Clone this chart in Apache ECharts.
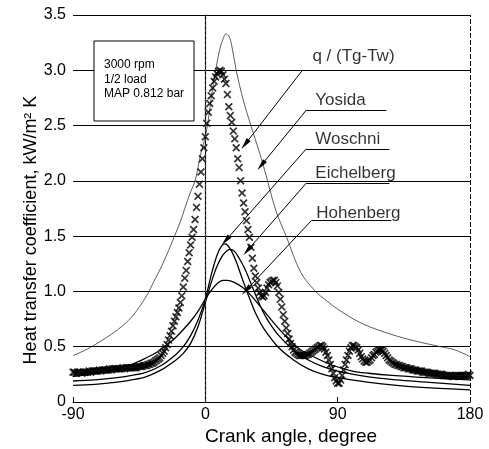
<!DOCTYPE html>
<html>
<head>
<meta charset="utf-8">
<script src="https://cdn.jsdelivr.net/npm/echarts@6/dist/echarts.min.js"></script>
<style>
  html, body { margin: 0; padding: 0; background: #fff; }
  #chart { width: 489px; height: 449px; }
</style>
</head>
<body>
<div id="chart"></div>
<script>
const FONT = '"Liberation Sans", Arial, Helvetica, sans-serif';

// Axis ticks
const xTicks = [-90, 0, 90, 180];
const yTicks = [0, 0.5, 1.0, 1.5, 2.0, 2.5, 3.0, 3.5];

// Measured q/(Tg-Tw), one value per crank-angle degree from -90 to 180
const expStart = -90;
const expHtc = [
  0.27,0.27,0.26,0.27,0.27,0.27,0.26,0.27,0.27,0.27,
  0.27,0.28,0.27,0.28,0.28,0.28,0.28,0.28,0.29,0.28,
  0.29,0.29,0.29,0.29,0.29,0.30,0.29,0.30,0.30,0.30,
  0.30,0.30,0.30,0.30,0.31,0.30,0.31,0.31,0.31,0.31,
  0.31,0.31,0.31,0.31,0.32,0.32,0.32,0.32,0.33,0.33,
  0.33,0.34,0.34,0.35,0.35,0.36,0.37,0.38,0.39,0.40,
  0.42,0.44,0.46,0.49,0.52,0.56,0.60,0.64,0.69,0.73,
  0.77,0.81,0.85,0.90,0.96,1.04,1.12,1.19,1.27,1.35,
  1.42,1.49,1.56,1.65,1.76,1.86,1.97,2.08,2.20,2.30,
  2.40,2.52,2.62,2.70,2.77,2.84,2.90,2.94,2.97,2.99,
  3.00,2.99,2.96,2.92,2.88,2.78,2.67,2.59,2.53,2.45,
  2.38,2.30,2.20,2.12,2.00,1.89,1.80,1.72,1.64,1.56,
  1.49,1.40,1.30,1.21,1.14,1.08,1.03,0.99,0.96,0.95,
  0.96,0.99,1.03,1.06,1.08,1.09,1.10,1.10,1.08,1.05,
  0.99,0.93,0.86,0.79,0.73,0.67,0.62,0.57,0.53,0.50,
  0.47,0.45,0.44,0.43,0.42,0.42,0.42,0.42,0.42,0.43,
  0.43,0.44,0.45,0.46,0.47,0.48,0.49,0.50,0.51,0.51,
  0.50,0.48,0.45,0.42,0.38,0.34,0.30,0.26,0.22,0.19,
  0.17,0.17,0.20,0.24,0.29,0.34,0.38,0.42,0.46,0.49,
  0.51,0.51,0.50,0.49,0.47,0.44,0.41,0.39,0.37,0.36,
  0.36,0.37,0.38,0.40,0.42,0.43,0.45,0.46,0.47,0.47,
  0.47,0.46,0.44,0.42,0.40,0.38,0.37,0.36,0.35,0.34,
  0.34,0.33,0.33,0.32,0.32,0.31,0.31,0.31,0.30,0.30,
  0.30,0.29,0.29,0.29,0.28,0.28,0.28,0.28,0.27,0.27,
  0.27,0.27,0.26,0.26,0.26,0.26,0.26,0.25,0.25,0.25,
  0.25,0.25,0.24,0.24,0.24,0.24,0.24,0.24,0.23,0.23,
  0.24,0.24,0.24,0.24,0.24,0.24,0.24,0.24,0.24,0.25,0.24
];

// Yosida correlation
const yosidaAngle = [-90,-80,-70,-60,-50,-40,-35,-30,-25,-21,-17,-14,-10,-7,-3,0,2,4,7,10,12,14,16,18,21,26,31,39,48,55,65,75,82,90,105,120,140,160,170,180];
const yosidaHtc   = [0.42,0.48,0.56,0.65,0.77,0.96,1.09,1.22,1.37,1.50,1.63,1.75,1.90,2.00,2.25,2.40,2.55,2.75,3.00,3.20,3.28,3.33,3.31,3.22,3.00,2.72,2.50,2.16,1.73,1.50,1.17,1.00,0.92,0.84,0.72,0.64,0.56,0.50,0.47,0.41];

// Woschni correlation
const woschniAngle = [-90,-75,-60,-50,-40,-30,-20,-15,-10,-5,0,4,8,11,13,15,18,21,25,30,35,40,50,60,70,80,90,110,130,150,180];
const woschniHtc   = [0.19,0.20,0.22,0.24,0.27,0.33,0.43,0.50,0.60,0.74,0.93,1.15,1.33,1.41,1.43,1.42,1.36,1.27,1.12,0.94,0.78,0.66,0.49,0.38,0.30,0.25,0.22,0.18,0.15,0.13,0.11];

// Eichelberg correlation
const eichelbergAngle = [-90,-75,-60,-50,-40,-30,-20,-15,-10,-5,0,4,8,12,15,17,20,23,27,32,37,42,50,60,70,80,90,110,130,150,180];
const eichelbergHtc   = [0.15,0.16,0.18,0.20,0.23,0.29,0.38,0.44,0.53,0.68,0.90,1.08,1.23,1.33,1.37,1.38,1.36,1.30,1.20,1.04,0.88,0.75,0.60,0.47,0.38,0.32,0.28,0.23,0.20,0.18,0.15];

// Hohenberg correlation
const hohenbergAngle = [-90,-75,-60,-50,-40,-33,-28,-22,-16,-10,-5,0,4,8,12,15,20,25,30,37,45,55,64,75,87,100,111,127,150,180];
const hohenbergHtc   = [0.23,0.26,0.30,0.34,0.40,0.45,0.50,0.56,0.64,0.73,0.82,0.93,1.01,1.07,1.10,1.10,1.08,1.04,0.98,0.87,0.74,0.59,0.48,0.40,0.33,0.28,0.26,0.24,0.22,0.20];

// Operating point shown in the inset box
const insetLines = ['3000 rpm', '1/2 load', 'MAP 0.812 bar'];

// Curve labels with their underline and leader arrow (in axis units)
const notes = [
  { text: 'q / (Tg-Tw)', at: [72.8, 3.13], from: [66, 3.0],     to: [27, 2.33] },
  { text: 'Yosida',      at: [74.8, 2.73], from: [68.7, 2.64],  under: 123.1, to: [38, 2.14] },
  { text: 'Woschni',     at: [74.8, 2.38], from: [68.7, 2.29],  under: 125.2, to: [13.8, 1.46] },
  { text: 'Eichelberg',  at: [74.8, 2.07], from: [68.7, 1.98],  under: 125.2, to: [28.6, 1.37] },
  { text: 'Hohenberg',   at: [75.5, 1.71], from: [72.1, 1.64],  under: 126.5, to: [27.7, 1.01] }
];

const pair = (xs, ys) => xs.map((x, i) => [x, ys[i]]);
const expData = expHtc.map((v, i) => [expStart + i, v]);

// Filled "x" glyph used for the measured points
const CROSS = 'path://M0,1.5L1.5,0L5,3.5L8.5,0L10,1.5L6.5,5L10,8.5L8.5,10L5,6.5L1.5,10L0,8.5L3.5,5Z';

const modelLine = (name, xs, ys, width, color) => ({
  name, type: 'line', data: pair(xs, ys), smooth: 0.35, symbol: 'none',
  lineStyle: { color, width }, z: 3, silent: true
});

const leaderLines = [];
notes.forEach(n => {
  leaderLines.push([
    { coord: n.from, symbol: 'none' },
    { coord: n.to, symbol: 'triangle', symbolSize: [5, 12] }
  ]);
  if (n.under !== undefined) {
    leaderLines.push([
      { coord: n.from, symbol: 'none' },
      { coord: [n.under, n.from[1]], symbol: 'none' }
    ]);
  }
});

const chart = echarts.init(document.getElementById('chart'), null, { renderer: 'canvas' });

chart.setOption({
  backgroundColor: '#fff',
  animation: false,
  grid: { left: 73, right: 19, top: 15, bottom: 47, containLabel: false },
  xAxis: {
    type: 'value', min: xTicks[0], max: xTicks[xTicks.length - 1], interval: 90,
    axisLine: { show: true, onZero: false, lineStyle: { color: '#000', width: 1.2 } },
    axisTick: { show: true, inside: true, length: 5, lineStyle: { color: '#000', width: 1 } },
    axisLabel: { color: '#000', fontSize: 16, fontFamily: FONT, margin: 5 },
    splitLine: { show: false }
  },
  yAxis: {
    type: 'value', min: yTicks[0], max: yTicks[yTicks.length - 1], interval: 0.5,
    axisLine: { show: true, lineStyle: { color: '#000', width: 1.2 } },
    axisTick: { show: true, inside: false, length: 5, lineStyle: { color: '#000', width: 1 } },
    axisLabel: {
      color: '#000', fontSize: 16, fontFamily: FONT, margin: 7,
      formatter: v => (v === 0 ? '0' : v.toFixed(1))
    },
    splitLine: { show: true, lineStyle: { color: '#000', width: 1 } }
  },
  series: [
    {
      name: 'frame', type: 'line', data: [], silent: true,
      markLine: {
        silent: true, symbol: 'none', animation: false,
        label: { show: false },
        data: [
          { xAxis: 0, lineStyle: { color: '#444', width: 0.8, type: [3, 2] } },
          { xAxis: 180, lineStyle: { color: '#000', width: 1, type: [5, 2] } }
        ]
      }
    },
    modelLine('Yosida', yosidaAngle, yosidaHtc, 0.8, '#333'),
    modelLine('Woschni', woschniAngle, woschniHtc, 1.3, '#000'),
    modelLine('Eichelberg', eichelbergAngle, eichelbergHtc, 1.3, '#000'),
    modelLine('Hohenberg', hohenbergAngle, hohenbergHtc, 1.3, '#000'),
    {
      name: 'q / (Tg-Tw)', type: 'scatter', data: expData,
      symbol: CROSS, symbolSize: 8, silent: true, z: 4,
      itemStyle: { color: '#000' }
    },
    {
      name: 'notes', type: 'scatter', silent: true, z: 6,
      symbolSize: 0,
      data: notes.map(n => ({ value: n.at, name: n.text })),
      label: {
        show: true, position: 'right', distance: 0,
        formatter: p => p.name,
        color: '#000', fontSize: 17, fontFamily: FONT
      },
      markLine: {
        silent: true, animation: false,
        label: { show: false },
        lineStyle: { color: '#000', width: 1, type: 'solid' },
        itemStyle: { color: '#000' },
        data: leaderLines
      }
    }
  ],
  graphic: [
    {
      type: 'rect', z: 20,
      shape: { x: 94, y: 41, width: 100, height: 80 },
      style: { fill: '#fff', stroke: '#000', lineWidth: 1 }
    },
    ...insetLines.map((t, i) => ({
      type: 'text', z: 21, x: 104, y: 65 + i * 14.5,
      style: { text: t, font: '12px ' + FONT, fill: '#000', textVerticalAlign: 'middle' }
    })),
    {
      type: 'text', z: 21, x: 291, y: 437,
      style: { text: 'Crank angle, degree', font: '19px ' + FONT, fill: '#000', textAlign: 'center', textVerticalAlign: 'middle' }
    },
    {
      type: 'text', z: 21, x: 31, y: 230, rotation: Math.PI / 2,
      style: { text: 'Heat transfer coefficient, kW/m² K', font: '18px ' + FONT, fill: '#000', textAlign: 'center', textVerticalAlign: 'middle' }
    }
  ]
});
</script>
</body>
</html>
